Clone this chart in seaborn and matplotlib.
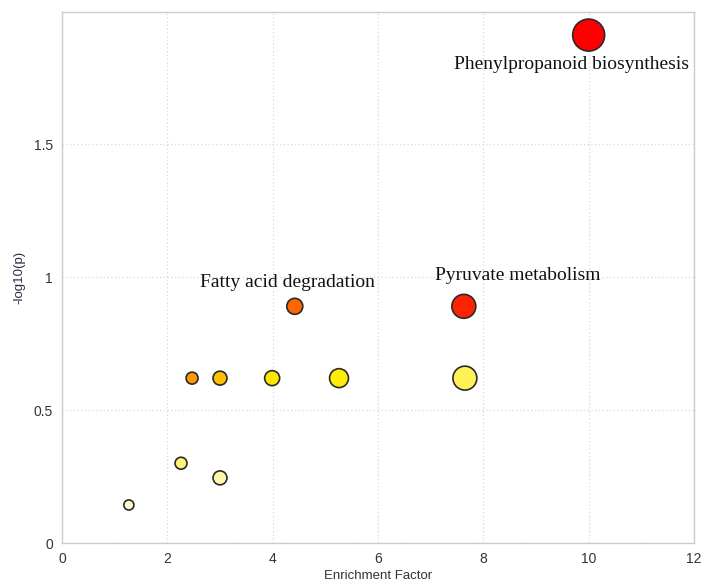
import pandas as pd
import matplotlib.pyplot as plt
import seaborn as sns
from matplotlib.colors import LinearSegmentedColormap

# valeurs
enrichment = [10.0, 7.63, 4.42, 2.47, 3.0, 3.99, 5.26, 7.65, 2.26, 3.0, 1.27]
log_p = [1.91, 0.89, 0.89, 0.62, 0.62, 0.62, 0.62, 0.62, 0.30, 0.245, 0.143]
impact = [1.0, 0.56, 0.25, 0.14, 0.19, 0.22, 0.35, 0.56, 0.14, 0.19, 0.10]
score = [1.0, 0.93, 0.8, 0.65, 0.55, 0.42, 0.4, 0.24, 0.18, 0.1, 0.04]
pathway = ["Phenylpropanoid biosynthesis", "Pyruvate metabolism", "Fatty acid degradation",
           "", "", "", "", "", "", "", ""]

df = pd.DataFrame({"ef": enrichment, "lp": log_p, "impact": impact,
                   "score": score, "pathway": pathway})

sns.set_style("white")
plt.rcParams['font.family'] = ['Liberation Sans', 'DejaVu Sans']

cmap = LinearSegmentedColormap.from_list(
    "bubbles",
    [(0.0, "#fffde0"), (0.25, "#fff050"), (0.4, "#ffee00"), (0.55, "#ffc000"),
     (0.65, "#ff9900"), (0.8, "#ff6600"), (1.0, "#ff0000")])

fig = plt.figure(figsize=(7.02, 5.82), dpi=100)
ax = fig.add_axes([0.0883, 0.067, 0.9003, 0.912])

sns.scatterplot(data=df, x="ef", y="lp", hue="score", palette=cmap, hue_norm=(0, 1),
                size="impact", sizes=(53, 530), size_norm=(0.1, 1.0),
                edgecolor="#2a2a2a", linewidth=1.2, alpha=1, legend=False, ax=ax, zorder=3)

# etiquettes des voies
offsets = {"Phenylpropanoid biosynthesis": (-12, -21),
           "Pyruvate metabolism": (39, 22),
           "Fatty acid degradation": (-5, 17)}
for _, row in df[df["pathway"] != ""].iterrows():
    ax.annotate(row["pathway"], (row["ef"], row["lp"]), xytext=offsets[row["pathway"]],
                textcoords="offset points", ha="center", va="center",
                fontsize=14, family="Liberation Serif", color="#111111")

ax.set_xlim(0, 12)
ax.set_ylim(0, 1.996)
ax.set_xticks([0, 2, 4, 6, 8, 10, 12])
ax.set_yticks([0, 0.5, 1, 1.5])
ax.set_yticklabels(["0", "0.5", "1", "1.5"])
ax.grid(True, linestyle=(0, (1, 2)), color="#d8d8d8", linewidth=0.9)
ax.set_axisbelow(True)
for s in ax.spines.values():
    s.set_color("#cccccc")
    s.set_linewidth(1)
ax.tick_params(axis="both", labelsize=10, colors="#cccccc", labelcolor="#333333",
               length=3, width=0.8)
ax.set_xlabel("Enrichment Factor", fontsize=9.5, color="#333333", labelpad=3)
ax.set_ylabel("-log10(p)", fontsize=9.5, color="#2a2a4a", labelpad=6)

fig.savefig("out.png", dpi=100)
